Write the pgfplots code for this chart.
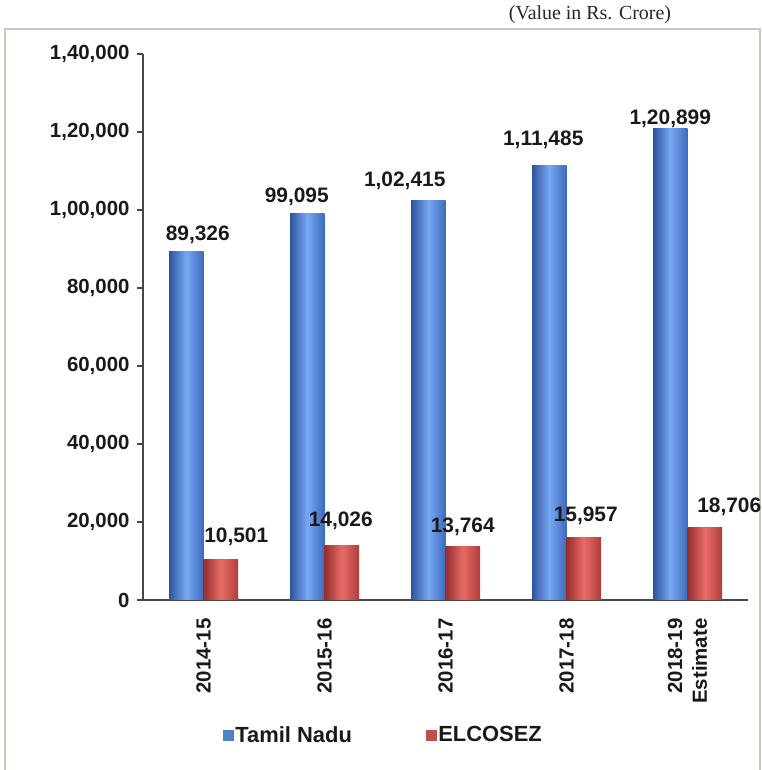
\documentclass[border=0pt]{standalone}
\usepackage{fontspec}
\setmainfont{Liberation Sans}
\newfontfamily\titlefont{Liberation Serif}
\usepackage{pgfplots}
\usepackage{pgfplotstable}
\pgfplotsset{compat=1.18}

\definecolor{tnDark}{RGB}{44,84,156}
\definecolor{tnLight}{RGB}{118,168,245}
\definecolor{tnRight}{RGB}{62,106,188}
\definecolor{elDark}{RGB}{150,46,46}
\definecolor{elLight}{RGB}{232,108,102}
\definecolor{elRight}{RGB}{176,62,60}
\definecolor{tnSolid}{RGB}{79,129,199}
\definecolor{elSolid}{RGB}{192,80,77}
\definecolor{frameCol}{RGB}{200,200,182}
\definecolor{axisCol}{RGB}{70,70,70}

% x, value, label, label offset from category centre (bp)
\pgfplotstableread{
x  y      label     dx      dy
1  89326  89,326    -5.75   16.5
2  99095  99,095   -27.75   16.5
3  102415 1,02,415 -40.75   20
4  111485 1,11,485 -23.25   25
5  120899 1,20,899 -17.25   10
}\tamilnadu

\pgfplotstableread{
x  y      label   dx     dy
1  10501  10,501  32.75  22
2  14026  14,026  16.25  24
3  13764  13,764  17.25  20
4  15957  15,957  19.25  22
5  18706  18,706  41.75  20
}\elcosez

\begin{document}
\begin{tikzpicture}[x=1bp,y=1bp]
\useasboundingbox (0,0) rectangle (762,770);
\draw[frameCol, line width=1.2bp] (5,-2) -- (5,741) -- (760,741) -- (760,-2);
\node[font=\titlefont\fontsize{20}{22}\selectfont, text=black!85] at (590,755) {(Value in Rs. Crore)};

\begin{axis}[
    at={(143bp,170bp)}, anchor=south west,
    scale only axis,
    width=605bp, height=546bp,
    xmin=0.5, xmax=5.5,
    ymin=0, ymax=140000,
    scaled y ticks=false,
    axis lines*=left,
    axis line style={axisCol, line width=1.3bp},
    tick align=outside,
    tick style={axisCol, line width=1.1bp},
    major tick length=6bp,
    xtick={1,2,3,4,5},
    x tick style={draw=none},
    minor xtick={0.5,1.5,2.5,3.5,4.5,5.5},
    minor tick length=7bp,
    xticklabels={2014-15,2015-16,2016-17,2017-18,{2018-19\\Estimate}},
    xticklabel style={rotate=90, anchor=east, align=right, xshift=-9bp,
        font=\bfseries\fontsize{20.5}{25}\selectfont, text=black!90},
    ytick={0,20000,40000,60000,80000,100000,120000,140000},
    yticklabels={0,{20,000},{40,000},{60,000},{80,000},{1,00,000},{1,20,000},{1,40,000}},
    yticklabel style={font=\bfseries\fontsize{20.5}{24}\selectfont, text=black!90, xshift=-4bp},
    /pgf/number format/assume math mode=true,
    clip=false,
    bar width=34.5bp,
    nodes near coords,
    point meta=explicit symbolic,
    visualization depends on={\thisrow{dx} \as \dx},
    visualization depends on={\thisrow{dy} \as \dy},
    nodes near coords style={anchor=center, inner sep=0pt,
        font=\bfseries\fontsize{21}{24}\selectfont, text=black!90,
        xshift=\dx bp, yshift=\dy bp},
]
% one plot per bar so that each bar gets its own cylinder shading
\pgfplotsinvokeforeach{1,...,5}{
  \addplot[ybar, bar shift=-17.25bp, draw=none,
      left color=tnDark, right color=tnRight, middle color=tnLight,
      restrict x to domain=#1:#1]
      table[x=x, y=y, meta=label] {\tamilnadu};
  \addplot[ybar, bar shift=17.25bp, draw=none,
      left color=elDark, right color=elRight, middle color=elLight,
      restrict x to domain=#1:#1]
      table[x=x, y=y, meta=label] {\elcosez};
}
\end{axis}

\begin{axis}[
    at={(143bp,170bp)}, anchor=south west,
    scale only axis,
    width=605bp, height=546bp,
    xmin=0.5, xmax=5.5, ymin=0, ymax=140000,
    hide axis,
    legend style={at={(0.132,-0.247)}, anchor=west, draw=none, fill=none,
        inner sep=0pt, legend columns=2,
        font=\bfseries\fontsize{22}{26}\selectfont, text=black!90,
        /tikz/every even column/.append style={column sep=72bp}},
    legend cell align=left,
]
\addlegendimage{legend image code/.code={\fill[tnSolid] (-2bp,-5bp) rectangle (8bp,5bp);}}
\addlegendentry{Tamil Nadu}
\addlegendimage{legend image code/.code={\fill[elSolid] (-2bp,-5bp) rectangle (8bp,5bp);}}
\addlegendentry{ELCOSEZ}
\end{axis}
\end{tikzpicture}
\end{document}
